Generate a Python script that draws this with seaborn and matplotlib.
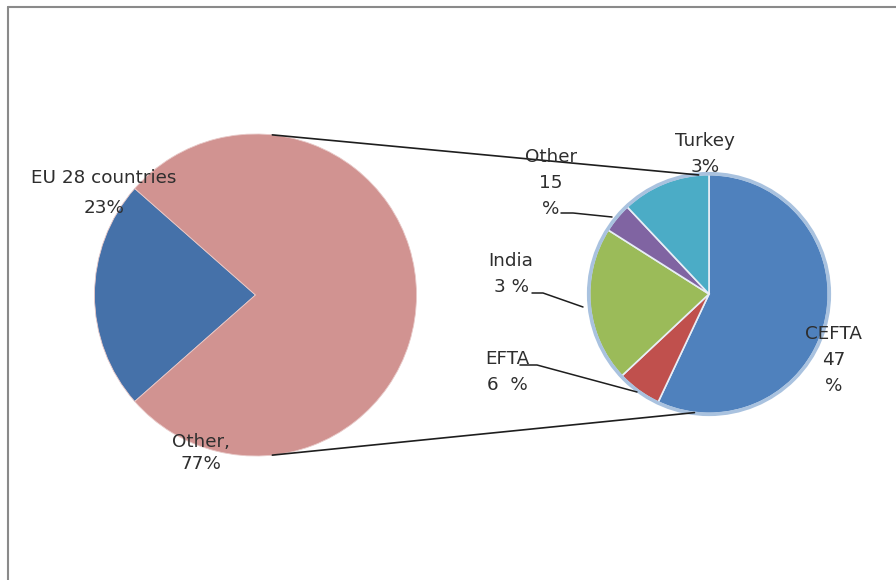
import numpy as np
import matplotlib
matplotlib.use("Agg")
import matplotlib.pyplot as plt
import seaborn as sns
from matplotlib.patches import Circle
from matplotlib.lines import Line2D

# ---- data ----
main_labels = ["EU 28 countries", "Other"]
main_values = [23, 77]
main_texts = ["EU 28 countries\n23%", "Other,\n77%"]

sub_labels = ["CEFTA", "EFTA", "India", "Other", "Turkey"]
sub_values = [57, 6, 21, 4, 12]          # slice shares as drawn
sub_texts = ["CEFTA\n47\n%", "EFTA\n6  %", "India\n3 %", "Other\n15\n%", "Turkey\n3%"]

main_colors = ["#4571A9", "#D19391"]
sub_colors = ["#4F81BD", "#C0504D", "#9BBB59", "#8064A2", "#4BACC6"]

W, H = 896, 580
sns.set_theme(style="white")
plt.rcParams["font.family"] = ["DejaVu Sans"]

fig = plt.figure(figsize=(W / 100, H / 100), dpi=100)
ax = fig.add_axes([0, 0, 1, 1])

def Y(y):
    return H - y

# left (main) pie
c1 = (255.5, Y(295))
R1 = 161
eu_span = 360 * main_values[0] / sum(main_values)
ax.pie(main_values, colors=main_colors, center=c1, radius=R1,
       startangle=180 - eu_span / 2, counterclock=True,
       wedgeprops=dict(linewidth=0.6, edgecolor="#e8c9c8"))

# right (sub) pie
c2 = (709, Y(294))
R2 = 119.5
ax.pie(sub_values, colors=sub_colors, center=c2, radius=R2,
       startangle=90, counterclock=False,
       wedgeprops=dict(linewidth=1.2, edgecolor="#e8eef6"))
ax.add_patch(Circle(c2, R2 + 0.8, fill=False, edgecolor="#a9c2df", linewidth=2.6, zorder=3))

# connector lines between pies
for a1, a2 in [(84, 95), (-84, -97)]:
    p1 = (c1[0] + R1 * np.cos(np.radians(a1)), c1[1] + R1 * np.sin(np.radians(a1)))
    p2 = (c2[0] + R2 * np.cos(np.radians(a2)), c2[1] + R2 * np.sin(np.radians(a2)))
    ax.plot([p1[0], p2[0]], [p1[1], p2[1]], color="#1e1e1e", lw=1.2, zorder=4)

txt_kw = dict(fontsize=13.2, color="#2e2e2e", ha="center", va="center", zorder=6)

main_pos = [(104, 193), (201, 453)]
main_ls = [1.8, 1.3]
for t, (x, y), ls in zip(main_texts, main_pos, main_ls):
    ax.text(x, Y(y), t, linespacing=ls, **txt_kw)

sub_pos = [(834, 360), (507, 372), (511, 274), (551, 183), (705, 154)]
for t, (x, y) in zip(sub_texts, sub_pos):
    ax.text(x, Y(y), t, linespacing=1.58, **txt_kw)

# leader lines for sub labels
leaders = [
    [(520, 365), (537, 365), (637, 392)],   # EFTA
    [(532, 293), (543, 293), (583, 307)],   # India
    [(561, 213), (573, 213), (612, 217)],   # Other
]
for pts in leaders:
    xs = [p[0] for p in pts]
    ys = [Y(p[1]) for p in pts]
    ax.plot(xs, ys, color="#1e1e1e", lw=1.1, zorder=5)

ax.set_xlim(0, W)
ax.set_ylim(0, H)
ax.set_aspect("equal")
ax.axis("off")

# frame (screenshot border on left and top)
fig.add_artist(Line2D([8 / W, 8 / W], [0, 1 - 7 / H], transform=fig.transFigure,
                      color="#8a8a8a", lw=1.5))
fig.add_artist(Line2D([8 / W, 1], [1 - 7 / H, 1 - 7 / H], transform=fig.transFigure,
                      color="#8a8a8a", lw=1.5))

fig.savefig("out.png", dpi=100, facecolor="white")
